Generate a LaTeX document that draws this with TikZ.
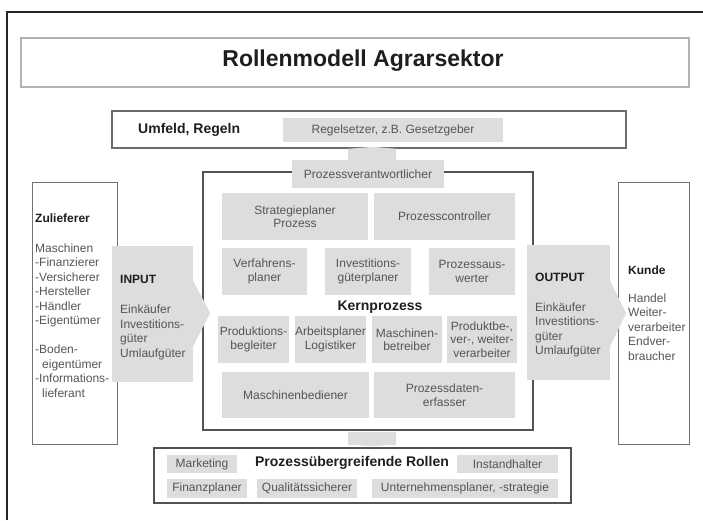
\documentclass[tikz,border=0pt]{standalone}
\usepackage{fontspec}
\setmainfont{Liberation Sans}
\usetikzlibrary{calc}
\definecolor{rolegray}{RGB}{221,221,221}
\definecolor{roletext}{RGB}{85,85,85}
\definecolor{headtext}{RGB}{30,30,30}
\newcommand{\rolefont}{\fontsize{12}{13.5}\selectfont}
\newcommand{\listfont}{\fontsize{12}{14.5}\selectfont}
\newcommand{\headfont}{\fontsize{14}{16}\selectfont\bfseries}
\begin{document}
\begin{tikzpicture}[x=1pt,y=-1pt,
  role/.style 2 args={fill=rolegray,text=roletext,font=\rolefont,align=center,
    inner sep=0pt,minimum width=#1,minimum height=#2},
  frame/.style 2 args={draw=#1,line width=#2,inner sep=0pt},
  head/.style={text=headtext,font=\headfont,inner sep=0pt},
  list/.style={text=roletext,font=\listfont,align=left,inner sep=0pt,anchor=north west}]
\useasboundingbox (0,0) rectangle (703,520);
% outer frame
\draw[line width=2pt,draw=black!85] (7,520) -- (7,12) -- (703,12);
% title
\node[frame={black!30}{1.3pt},minimum width=668,minimum height=49] (titlebox) at (355,62.5) {};
\node[text=headtext,font=\fontsize{23}{27}\selectfont\bfseries] (title) at (363,61) {Rollenmodell Agrarsektor};
% Umfeld
\node[frame={black!58}{1.6pt},minimum width=514,minimum height=37] (umfeld) at (369,129.5) {};
\node[head,anchor=west] (umfeldtext) at (138,130) {Umfeld, Regeln};
\node[role={220}{24}] (regelsetzer) at (393,130) {Regelsetzer, z.B. Gesetzgeber};
% Kernprozess
\node[frame={black!68}{1.5pt},minimum width=330,minimum height=258] (core) at (368,301) {};
\node[role={152}{28}] (pv) at (368,174) {Prozessverantwortlicher};
\fill[rolegray] ($(pv.north)+(-20,0)$) -- ++(0,-11) -- ($(umfeld.south)+(4,-2)$)
  -- ($(pv.north)+(28,-11)$) -- ++(0,11) -- cycle;
\node[role={146}{47}] (strategie) at (295,216.5) {Strategieplaner\\Prozess};
\node[role={141}{47}] (controller) at (444.5,216.5) {Prozesscontroller};
\node[role={85}{47}] (verfahren) at (264.5,271.5) {Verfahrens-\\planer};
\node[role={86}{47}] (invest) at (368,271.5) {Investitions-\\güterplaner};
\node[role={86}{47}] (auswerter) at (472,271.5) {Prozessaus-\\werter};
\node[head] (kern) at (380,307) {Kernprozess};
\node[role={71}{47}] (begleiter) at (253.5,339.5) {Produktions-\\begleiter};
\node[role={71}{47}] (arbeit) at (330.5,339.5) {Arbeitsplaner\\Logistiker};
\node[role={70}{47}] (betreiber) at (407,339.5) {Maschinen-\\betreiber};
\node[role={70}{47}] (verarbeiter) at (482,339.5) {Produktbe-,\\ver-, weiter-\\verarbeiter};
\node[role={147}{46}] (bediener) at (295.5,395) {Maschinenbediener};
\node[role={141}{46}] (erfasser) at (444.5,395) {Prozessdaten-\\erfasser};
% Prozessuebergreifende Rollen
\node[frame={black!68}{1.5pt},minimum width=417,minimum height=55] (rollen) at (362.5,475.5) {};
\fill[rolegray] ($(core.south)+(-20,1)$) -- ++(0,13) -- ($(rollen.north)+(9.5,-1)$)
  -- ($(core.south)+(28,14)$) -- ++(0,-13) -- cycle;
\node[head] (rollentext) at (352,463) {Prozessübergreifende Rollen};
\node[role={70}{18}] (marketing) at (202,464) {Marketing};
\node[role={101}{18}] (instand) at (507.5,464) {Instandhalter};
\node[role={80}{19}] (finanz) at (207,488.5) {Finanzplaner};
\node[role={100}{19}] (qualitaet) at (307,488.5) {Qualitätssicherer};
\node[role={186}{19}] (unternehmen) at (465,488.5) {Unternehmensplaner, -strategie};
% Zulieferer und Kunde
\node[frame={black!55}{1pt},minimum width=85,minimum height=262] (zulieferer) at (74.5,313) {};
\node[frame={black!55}{1pt},minimum width=71,minimum height=262] (kunde) at (653.5,313) {};
\node[list] (zulist) at (35,213.5) {{\bfseries\color{headtext}Zulieferer}\\[15.5pt]
  Maschinen\\-Finanzierer\\-Versicherer\\-Hersteller\\-Händler\\-Eigentümer\\[14.5pt]
  -Boden-\\\hspace*{7pt}eigentümer\\-Informations-\\\hspace*{7pt}lieferant};
\node[list] (kundelist) at (628,265.5) {{\bfseries\color{headtext}Kunde}\\[13.5pt]
  Handel\\Weiter-\\verarbeiter\\Endver-\\braucher};
% INPUT / OUTPUT
\node[fill=rolegray,inner sep=0pt,minimum width=81,minimum height=136] (input) at (152.5,314) {};
\fill[rolegray] ($(input.east)+(-0.5,-34)$) -- ($(input.east)+(17,-1)$) -- ($(input.east)+(-0.5,33)$) -- cycle;
\node[fill=rolegray,inner sep=0pt,minimum width=83,minimum height=135] (output) at (568.5,312.5) {};
\fill[rolegray] ($(output.east)+(-0.5,-32.5)$) -- ($(output.east)+(16,0.5)$) -- ($(output.east)+(-0.5,34.5)$) -- cycle;
\node[list] (inputtext) at (120,275.5) {{\bfseries\color{headtext}INPUT}\\[15.5pt]
  Einkäufer\\Investitions-\\güter\\Umlaufgüter};
\node[list] (outputtext) at (535,272.5) {{\bfseries\color{headtext}OUTPUT}\\[15.5pt]
  Einkäufer\\Investitions-\\güter\\Umlaufgüter};
\end{tikzpicture}
\end{document}
